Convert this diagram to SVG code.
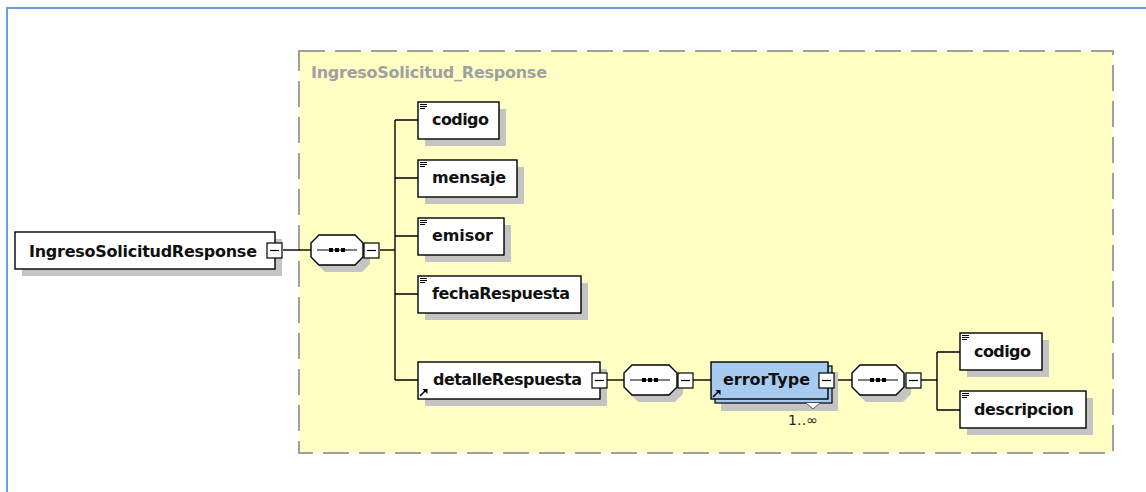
<svg xmlns="http://www.w3.org/2000/svg" width="1146" height="492" viewBox="0 0 1146 492">
<style>
.box{fill:#fff;stroke:#000;stroke-width:1.4}
.shadow{fill:#c4c4c4}
.lbl{font-family:"DejaVu Sans","Liberation Sans",sans-serif;font-weight:bold;font-size:16px;fill:#111}
.conn{stroke:#000;stroke-width:1.4;fill:none}
.mini{fill:#fff;stroke:#000;stroke-width:1.2}
.icon{stroke:#000;stroke-width:1}
</style>
<defs>
<g id="lines">
<path d="M0,0.5h7M0,2.5h7M0,4.5h5" class="icon"/>
</g>
<g id="minus">
<rect x="0" y="0" width="15" height="15" class="mini"/>
<path d="M3,7.5h9" stroke="#000" stroke-width="1.2"/>
</g>
<g id="arr">
<path d="M0,7 L6,1" stroke="#000" stroke-width="1.6"/>
<polygon points="2.5,0 7.5,0 7.5,5" fill="#000"/>
</g>
</defs>

<rect x="7" y="8" width="1160" height="500" fill="#fff" stroke="#6aa0dc" stroke-width="2"/>

<g id="container">
<rect x="299" y="51" width="814" height="402" fill="#ffffc4" stroke="#a0a0a0" stroke-width="2" stroke-dasharray="26 10"/>
<text x="311" y="78" font-family="DejaVu Sans,Liberation Sans,sans-serif" font-weight="bold" font-size="16" fill="#a0a0a0" textLength="236">IngresoSolicitud_Response</text>
</g>

<g id="connectors">
<path class="conn" d="M283,250H311"/>
<path class="conn" d="M380,250H395"/>
<path class="conn" d="M395,120V380"/>
<path class="conn" d="M395,120H418M395,178H418M395,236H418M395,294H418M395,380H418"/>
<path class="conn" d="M607,380H624"/>
<path class="conn" d="M693,380H711"/>
<path class="conn" d="M835,380H852"/>
<path class="conn" d="M921,380H937"/>
<path class="conn" d="M937,352V410M937,352H960M937,410H960"/>
</g>

<g id="n-root">
<rect class="shadow" x="22" y="239" width="260" height="37"/>
<rect class="box" x="15" y="232" width="260" height="37"/>
<text class="lbl" x="29" y="257" textLength="228">IngresoSolicitudResponse</text>
<use href="#minus" x="267" y="243"/>
</g>

<g id="seq1">
<polygon points="325,242 362,242 370,250 370,264 362,272 325,272 317,264 317,250" class="shadow"/>
<polygon points="319,235 355,235 363,243 363,257 355,265 319,265 311,257 311,243" class="box"/>
<path d="M317,250H357" stroke="#000" stroke-width="1.2"/>
<rect x="329" y="248" width="4" height="4" fill="#000"/><rect x="335" y="248" width="4" height="4" fill="#000"/><rect x="341" y="248" width="4" height="4" fill="#000"/>
<use href="#minus" x="364" y="243"/>
</g>

<g id="n-codigo">
<rect class="shadow" x="425" y="109" width="81" height="37"/>
<rect class="box" x="418" y="102" width="81" height="37"/>
<use href="#lines" x="420" y="104"/>
<text class="lbl" x="432" y="125" textLength="57">codigo</text>
</g>

<g id="n-mensaje">
<rect class="shadow" x="425" y="167" width="99" height="37"/>
<rect class="box" x="418" y="160" width="99" height="37"/>
<use href="#lines" x="420" y="162"/>
<text class="lbl" x="432" y="183" textLength="74">mensaje</text>
</g>

<g id="n-emisor">
<rect class="shadow" x="425" y="225" width="86" height="37"/>
<rect class="box" x="418" y="218" width="86" height="37"/>
<use href="#lines" x="420" y="220"/>
<text class="lbl" x="432" y="241" textLength="61">emisor</text>
</g>

<g id="n-fecha">
<rect class="shadow" x="425" y="283" width="163" height="37"/>
<rect class="box" x="418" y="276" width="163" height="37"/>
<use href="#lines" x="420" y="278"/>
<text class="lbl" x="432" y="299" textLength="138">fechaRespuesta</text>
</g>

<g id="n-detalle">
<rect class="shadow" x="425" y="369" width="182" height="37"/>
<rect class="box" x="418" y="362" width="182" height="37"/>
<use href="#arr" x="420" y="389"/>
<text class="lbl" x="433" y="385" textLength="149">detalleRespuesta</text>
<use href="#minus" x="592" y="373"/>
</g>

<g id="seq2">
<polygon points="638,372 675,372 683,380 683,394 675,402 638,402 630,394 630,380" class="shadow"/>
<polygon points="632,365 669,365 677,373 677,387 669,395 632,395 624,387 624,373" class="box"/>
<path d="M630,380H670" stroke="#000" stroke-width="1.2"/>
<rect x="642" y="378" width="4" height="4" fill="#000"/><rect x="648" y="378" width="4" height="4" fill="#000"/><rect x="654" y="378" width="4" height="4" fill="#000"/>
<use href="#minus" x="678" y="373"/>
</g>

<g id="n-errorType">
<rect class="shadow" x="721" y="372" width="117" height="39"/>
<rect x="715" y="366" width="117" height="37" fill="#a6caf0" stroke="#000" stroke-width="1.2"/>
<rect x="711" y="362" width="117" height="37" fill="#a6caf0" stroke="#000" stroke-width="1.4"/>
<polyline points="806,403 813,409 820,403" fill="#fff" stroke="#555" stroke-width="1"/>
<use href="#arr" x="713" y="390"/>
<text class="lbl" x="723" y="385" textLength="87">errorType</text>
<use href="#minus" x="819" y="373"/>
<text x="788" y="425" font-family="DejaVu Sans,Liberation Sans,sans-serif" font-size="14" fill="#222" textLength="30">1..∞</text>
</g>

<g id="seq3">
<polygon points="866,372 903,372 911,380 911,394 903,402 866,402 858,394 858,380" class="shadow"/>
<polygon points="860,365 896,365 904,373 904,387 896,395 860,395 852,387 852,373" class="box"/>
<path d="M858,380H898" stroke="#000" stroke-width="1.2"/>
<rect x="870" y="378" width="4" height="4" fill="#000"/><rect x="876" y="378" width="4" height="4" fill="#000"/><rect x="882" y="378" width="4" height="4" fill="#000"/>
<use href="#minus" x="906" y="373"/>
</g>

<g id="n-codigo2">
<rect class="shadow" x="967" y="340" width="82" height="37"/>
<rect class="box" x="960" y="333" width="82" height="37"/>
<use href="#lines" x="962" y="335"/>
<text class="lbl" x="974" y="357" textLength="57">codigo</text>
</g>

<g id="n-descripcion">
<rect class="shadow" x="967" y="398" width="126" height="37"/>
<rect class="box" x="960" y="391" width="126" height="37"/>
<use href="#lines" x="962" y="393"/>
<text class="lbl" x="974" y="415" textLength="100">descripcion</text>
</g>
</svg>
